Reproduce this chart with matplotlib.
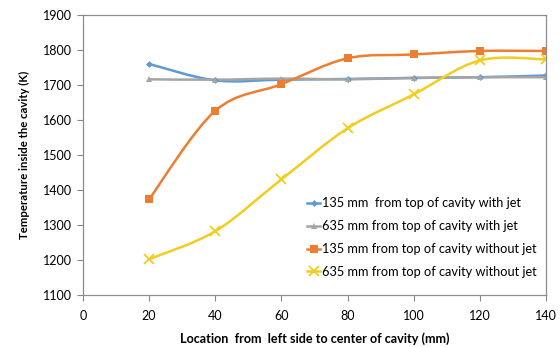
import numpy as np
import matplotlib
matplotlib.use('Agg')
import matplotlib.pyplot as plt
from matplotlib.path import Path
from matplotlib.patches import PathPatch

plt.rcParams['font.family'] = ['Lato', 'DejaVu Sans']

x = [20, 40, 60, 80, 100, 120, 140]
jet135 = [1760, 1713, 1715, 1717, 1720, 1722, 1727]
jet635 = [1716, 1715, 1718, 1716, 1720, 1722, 1722]
nojet135 = [1373, 1626, 1702, 1776, 1787, 1797, 1797]
nojet635 = [1202, 1282, 1430, 1576, 1673, 1770, 1773]

labels = ['135 mm  from top of cavity with jet',
          '635 mm from top of cavity with jet',
          '135 mm from top of cavity without jet',
          '635 mm from top of cavity without jet']
colors = ['#5B9BD5', '#A5A5A5', '#ED7D31', '#F2CC1F']
markers = ['D', '^', 's', 'x']
msizes = [3.5, 5, 5.5, 7]


def smooth_path(xs, ys, t=1/6):
    # Excel-like smoothed line: bezier segments through the data points
    pts = np.column_stack([xs, ys]).astype(float)
    verts = [pts[0]]
    codes = [Path.MOVETO]
    n = len(pts)
    for i in range(n - 1):
        p0 = pts[max(i - 1, 0)]
        p1 = pts[i]
        p2 = pts[i + 1]
        p3 = pts[min(i + 2, n - 1)]
        verts += [p1 + (p2 - p0) * t, p2 - (p3 - p1) * t, p2]
        codes += [Path.CURVE4] * 3
    return Path(verts, codes)


fig = plt.figure(figsize=(5.6, 3.47), dpi=100)
ax = fig.add_axes([0.148, 0.150, 0.827, 0.807])

handles = []
for ys, c, m, ms in zip([jet135, jet635, nojet135, nojet635], colors, markers, msizes):
    mew = 1.3 if m == 'x' else 0
    ax.add_patch(PathPatch(smooth_path(x, ys), fc='none', ec=c, lw=1.8))
    ax.plot(x, ys, ls='none', color=c, marker=m, ms=ms, mew=mew)
    handles.append(plt.Line2D([], [], color=c, lw=1.8, marker=m, ms=ms, mew=mew))

ax.legend(handles, labels, loc='lower right', bbox_to_anchor=(1.005, 0.02), frameon=False,
          fontsize=9.2, handlelength=1.0, handletextpad=0.15, labelspacing=0.85)

ax.set_xlim(0, 140)
ax.set_ylim(1100, 1900)
ax.set_xticks(range(0, 141, 20))
ax.set_yticks(range(1100, 1901, 100))
ax.tick_params(labelsize=9, length=4, color='#888888', direction='out', pad=4)
ax.tick_params(axis='x', pad=7)
for s in ax.spines.values():
    s.set_color('#8c8c8c')
    s.set_linewidth(0.9)

ax.set_xlabel('Location  from  left side to center of cavity (mm)', fontsize=9.1,
              fontweight='bold', labelpad=7)
ax.set_ylabel('Temperature inside the cavity (K)', fontsize=8.2, fontweight='bold', labelpad=9)

fig.savefig('out.png', dpi=100)
